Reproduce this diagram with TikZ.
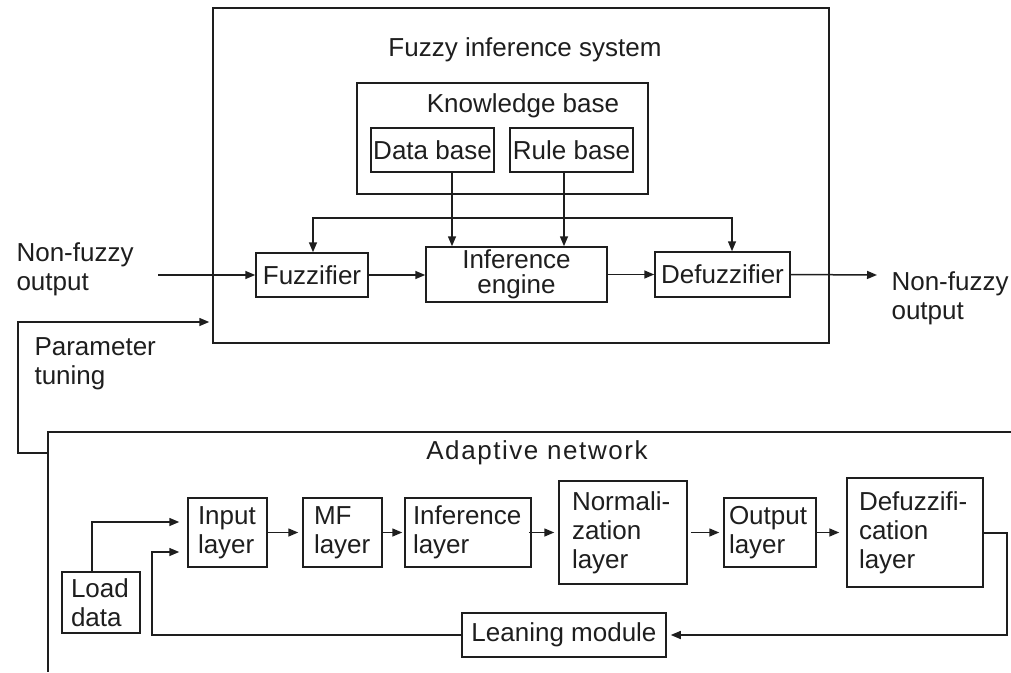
\documentclass[tikz,border=0pt]{standalone}
\usepackage{fontspec}
\setmainfont{Liberation Sans}
\usetikzlibrary{arrows.meta}
\definecolor{ink}{HTML}{1E1E1E}
\begin{document}
\hyphenpenalty=10000
\exhyphenpenalty=10000
\begin{tikzpicture}[x=1pt,y=-1pt,
  every node/.style={font=\fontsize{26}{29}\selectfont, text=ink},
  ln/.style={draw=ink, line width=1.5pt},
  tip/.style={-{Triangle[length=10pt,width=8pt]}},
  arr/.style={ln, tip},
  box/.style={draw=ink, line width=1.5pt, inner sep=0pt},
  lbox/.style={box, align=left},
  gap/.style={shorten >=4pt},
]
\useasboundingbox (0,0) rectangle (1011,672);

% ---------- Fuzzy inference system ----------
\node[box, minimum width=616pt, minimum height=335pt] (fis) at (521,175.5) {};
\node (fistitle) at (525,50) {Fuzzy inference system};
\node[box, minimum width=291pt, minimum height=111pt] (kb) at (502.5,138.5) {};
\node (kbtitle) at (523,106) {Knowledge base};
\node[box, minimum width=123pt, minimum height=44pt] (db) at (432.5,150) {Data base};
\node[box, minimum width=123pt, minimum height=44pt] (rb) at (571.5,150) {Rule base};
\node[box, minimum width=112pt, minimum height=44pt] (fuzz) at (312,275) {Fuzzifier};
\node[box, minimum width=181pt, minimum height=55pt, align=center,
      font=\fontsize{26}{25}\selectfont] (ie) at (516.5,274.5) {Inference\\engine};
\node[box, minimum width=135pt, minimum height=45pt] (defz) at (722.5,274.5) {Defuzzifier};

\node[align=left, anchor=west] (inlab) at (13,269) {Non-fuzzy\\output};
\node[align=left, anchor=west] (outlab) at (888,298) {Non-fuzzy\\output};
\node[align=left, anchor=west] (ptlab) at (31,364) {Parameter\\tuning};

\coordinate (inS) at (158,275);
\coordinate (outE) at (877,275);
\coordinate (busL) at (313,218);
\coordinate (busR) at (732,218);
\coordinate (dbx) at (452,0);
\coordinate (rbx) at (564,0);

\draw[arr] (inS) -- (inS -| fuzz.west);
\draw[arr] (fuzz.east) -- (fuzz.east -| ie.west);
\draw[arr] (ie.east) -- (ie.east -| defz.west);
\draw[arr] (defz.east) -- (outE);
\draw[arr] (dbx |- db.south) -- (dbx |- ie.north);
\draw[arr] (rbx |- rb.south) -- (rbx |- ie.north);
\draw[ln, {Triangle[length=10pt,width=8pt]}-{Triangle[length=10pt,width=8pt]}]
  (busL |- fuzz.north) -- (busL) -- (busR) -- (busR |- defz.north);

% ---------- Parameter tuning ----------
\coordinate (ptS) at (48,453);
\coordinate (ptC) at (18,322);
\draw[arr, shorten >=3pt] (ptS) -- (ptC |- ptS) -- (ptC) -- (ptC -| fis.west);

% ---------- Adaptive network ----------
\draw[ln] (1011,432) -- (48,432) -- (48,672);
\node[font=\fontsize{26}{29}\selectfont\addfontfeature{LetterSpace=6}] (antitle) at (537,453) {Adaptive network};

\node[lbox, text width=59pt, inner xsep=10pt, minimum height=69pt] (inp) at (227.5,532.5) {Input\\layer};
\node[lbox, text width=57pt, inner xsep=11pt, minimum height=69pt] (mf) at (342.5,532.5) {MF\\layer};
\node[lbox, text width=110pt, inner xsep=8pt, minimum height=69pt] (infl) at (468,532.5) {Inference\\layer};
\node[lbox, text width=102pt, inner xsep=13pt, minimum height=103pt] (norm) at (623,532.5) {Normali-\\zation\\layer};
\node[lbox, text width=82pt, inner xsep=5pt, minimum height=69pt] (outl) at (770,532.5) {Output\\layer};
\node[lbox, text width=112pt, inner xsep=12pt, minimum height=109pt] (dfl) at (915,532.5) {Defuzzifi-\\cation\\layer};
\node[lbox, text width=60pt, inner xsep=9pt, minimum height=61pt] (ld) at (101,602.5) {Load\\data};
\node[box, minimum width=204pt, minimum height=44pt] (lm) at (564,635) {Leaning module};

\draw[arr, gap] (inp.east) -- (mf.west);
\draw[arr, shorten >=2pt] (mf.east) -- (infl.west);
\draw[arr, shorten >=4pt, shorten <=-3pt] (infl.east) -- (norm.west);
\draw[arr, shorten >=4pt, shorten <=3pt] (norm.east) -- (outl.west);
\draw[arr, shorten >=7pt] (outl.east) -- (dfl.west);

\coordinate (ldc) at (92,522);
\draw[arr, shorten >=8pt] (ldc |- ld.north) -- (ldc) -- (ldc -| inp.west);
\coordinate (lmc) at (152,552);
\draw[arr, shorten >=8pt] (lm.west) -- (lmc |- lm.west) -- (lmc) -- (lmc -| inp.west);
\coordinate (fbc) at (1007,533);
\draw[arr, shorten >=4pt] (dfl.east |- fbc) -- (fbc) -- (fbc |- lm.east) -- (lm.east);
\end{tikzpicture}
\end{document}
